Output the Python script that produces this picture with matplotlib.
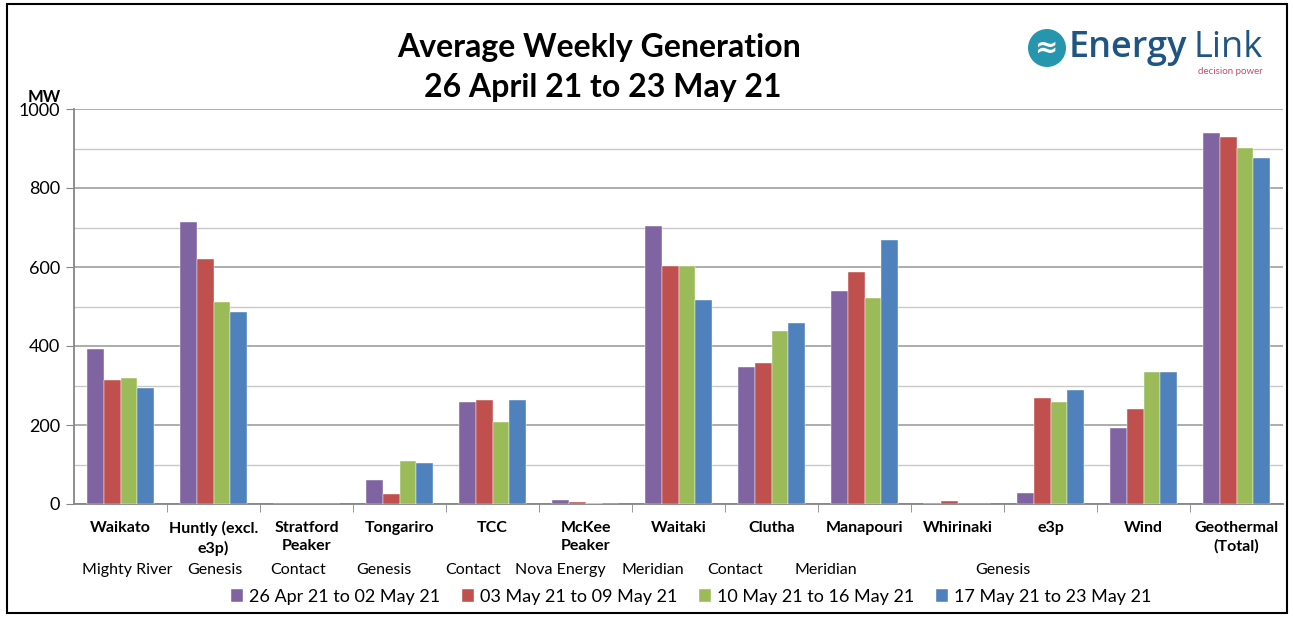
import matplotlib
matplotlib.use("Agg")
import matplotlib.pyplot as plt
from matplotlib.patches import Rectangle, Ellipse
import numpy as np

plt.rcParams['font.family'] = ['Lato', 'DejaVu Sans']

categories = ["Waikato", "Huntly (excl.\ne3p)", "Stratford\nPeaker", "Tongariro", "TCC",
              "McKee\nPeaker", "Waitaki", "Clutha", "Manapouri", "Whirinaki", "e3p", "Wind",
              "Geothermal\n(Total)"]
companies = ["Mighty River", "Genesis", "Contact", "Genesis", "Contact", "Nova Energy",
             "Meridian", "Contact", "Meridian", "Genesis"]
series_names = ["26 Apr 21 to 02 May 21", "03 May 21 to 09 May 21",
                "10 May 21 to 16 May 21", "17 May 21 to 23 May 21"]
week1 = [392, 714, 1, 61, 258, 10, 704, 347, 539, 3, 28, 192, 939]
week2 = [314, 620, 1, 25, 263, 4, 603, 357, 587, 7, 268, 240, 929]
week3 = [319, 511, 1, 109, 208, 3, 603, 438, 522, 0, 258, 334, 901]
week4 = [294, 486, 0, 104, 263, 0, 516, 458, 668, 0, 289, 334, 876]
colors = ["#8064A2", "#C0504D", "#9BBB59", "#4F81BD"]

W, H = 1293, 617
fig = plt.figure(figsize=(W / 100, H / 100), dpi=100)
ax = fig.add_axes([74 / W, (H - 504) / H, (1283 - 74) / W, (504 - 109) / H])

x = np.arange(len(categories))
bw = 0.18
for i, (vals, c, n) in enumerate(zip([week1, week2, week3, week4], colors, series_names)):
    ax.bar(x + (i - 1.5) * bw, vals, width=bw, color=c, label=n, zorder=3,
           edgecolor='white', linewidth=0.3)

ax.set_xlim(-0.5, len(categories) - 0.5)
ax.set_ylim(0, 1000)
ax.set_yticks(np.arange(0, 1001, 200))
ax.set_yticks(np.arange(100, 1000, 200), minor=True)
ax.tick_params(axis='y', which='major', labelsize=13, length=6, color='#868686', pad=4)
ax.tick_params(axis='y', which='minor', length=0)
ax.grid(axis='y', which='major', color='#a6a6a6', linewidth=1.3, zorder=0)
ax.grid(axis='y', which='minor', color='#c8c8c8', linewidth=1.0, zorder=0)

ax.set_xticks([])
ax.set_xticks(np.arange(0.5, len(categories) - 0.5, 1.0), minor=True)
ax.tick_params(axis='x', which='minor', length=6, color='#868686', labelbottom=False)
for s in ['top', 'right']:
    ax.spines[s].set_visible(False)
for s in ['left', 'bottom']:
    ax.spines[s].set_color('#868686')
    ax.spines[s].set_linewidth(1.3)

for xi, cat in zip(x, categories):
    ax.text(xi, -43, cat, ha='center', va='top', fontsize=11.5, fontweight='bold',
            transform=ax.transData, linespacing=1.4, clip_on=False)

company_x = [0.075, 1.02, 1.905, 2.83, 3.79, 4.73, 5.72, 6.61, 7.58, 9.49]
for cx, comp in zip(company_x, companies):
    ax.text(cx, -167, comp, ha='center', va='center', fontsize=11.5,
            transform=ax.transData, clip_on=False)

fig.text(599 / W, 1 - 47 / H, "Average Weekly Generation",
         ha='center', va='center', fontsize=23, fontweight='bold')
fig.text(603 / W, 1 - 88 / H, "26 April 21 to 23 May 21",
         ha='center', va='center', fontsize=23, fontweight='bold')
fig.text(28 / W, 1 - 97 / H, "MW", ha='left', va='center', fontsize=12, fontweight='bold')

leg = fig.legend(loc='center', bbox_to_anchor=(691 / W, 1 - 597 / H), ncol=4, frameon=False,
                 fontsize=13, handlelength=0.7, handleheight=0.7, handletextpad=0.3,
                 columnspacing=1.2)

# logo
fig.patches.append(Ellipse((1047 / W, 1 - 48 / H), 38 / W, 38 / H, transform=fig.transFigure,
                           facecolor='#2596ae', edgecolor='none'))
fig.text(1047 / W, 1 - 48 / H, "≈", ha='center', va='center', fontsize=20, color='white',
         fontweight='bold', family='DejaVu Sans')
fig.text(1069 / W, 1 - 48 / H, "Energy", ha='left', va='center', fontsize=26,
         color='#1f5582', family='Open Sans', fontweight='semibold')
fig.text(1263 / W, 1 - 48 / H, "Link", ha='right', va='center', fontsize=26,
         color='#1f5582', family='Open Sans')
fig.text(1263 / W, 1 - 71 / H, "decision power", ha='right', va='center', fontsize=7,
         color='#c0506a')

# border
fig.patches.append(Rectangle((7 / W, 4 / H), (1287 - 7) / W, (613 - 4) / H,
                             transform=fig.transFigure, fill=False, edgecolor='black',
                             linewidth=1.5))

fig.savefig("out.png", dpi=100)
